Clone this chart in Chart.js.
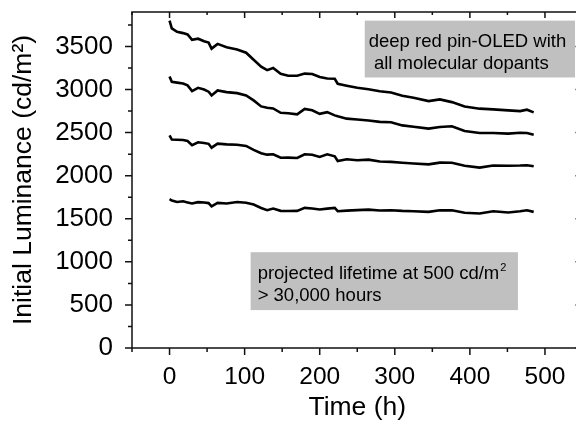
<!DOCTYPE html>
<html>
<head>
<meta charset="utf-8">
<script src="https://cdn.jsdelivr.net/npm/chart.js@4.4.1/dist/chart.umd.min.js"></script>
<style>
  html, body { margin: 0; padding: 0; background: #fff; overflow: hidden; }
  #wrap { width: 600px; height: 424px; }
</style>
</head>
<body>
<div id="wrap"><canvas id="lifetimeChart" width="600" height="424"></canvas></div>
<script>
// time axis shared by all four curves (h)
var hours = [0, 3, 10, 18, 24, 30, 38, 46, 52, 56, 64, 76, 90, 102, 112, 122, 130, 138, 148, 158,
  170, 180, 190, 200, 210, 220, 224, 236, 250, 265, 280, 295, 310, 325, 345, 360, 376, 393, 413,
  431, 451, 467, 476, 485];

var lum3800 = [3800, 3710, 3670, 3655, 3640, 3577, 3590, 3560, 3545, 3475, 3530, 3492, 3465, 3427,
  3345, 3265, 3225, 3250, 3183, 3160, 3160, 3185, 3180, 3145, 3128, 3125, 3067, 3045, 3020, 3003,
  2980, 2965, 2928, 2905, 2866, 2886, 2854, 2804, 2778, 2770, 2758, 2750, 2766, 2735];
var lum3150 = [3152, 3090, 3080, 3070, 3048, 2982, 3020, 3000, 2975, 2932, 2990, 2970, 2958, 2932,
  2874, 2804, 2788, 2780, 2730, 2725, 2712, 2775, 2760, 2718, 2738, 2700, 2689, 2662, 2652, 2640,
  2625, 2620, 2584, 2568, 2546, 2565, 2573, 2518, 2495, 2495, 2488, 2499, 2495, 2476];
var lum2470 = [2468, 2420, 2418, 2415, 2403, 2355, 2388, 2380, 2370, 2325, 2372, 2364, 2360, 2345,
  2300, 2260, 2244, 2248, 2208, 2210, 2205, 2248, 2244, 2217, 2248, 2225, 2171, 2190, 2179, 2186,
  2165, 2160, 2150, 2142, 2132, 2152, 2150, 2115, 2094, 2118, 2115, 2118, 2122, 2109];
var lum1730 = [1727, 1712, 1695, 1703, 1690, 1677, 1693, 1688, 1682, 1645, 1684, 1678, 1695, 1685,
  1665, 1625, 1600, 1619, 1592, 1591, 1592, 1626, 1619, 1607, 1618, 1626, 1588, 1595, 1600, 1606,
  1596, 1599, 1592, 1588, 1580, 1599, 1598, 1570, 1561, 1588, 1572, 1588, 1599, 1580];

var xTickValues = [0, 100, 200, 300, 400, 500];
var yTickValues = [0, 500, 1000, 1500, 2000, 2500, 3000, 3500];

var noteTop = ['deep red pin-OLED with', ' all molecular dopants'];
var noteBottom = ['projected lifetime at 500 cd/m', '> 30,000 hours'];

var fontFamily = "'Liberation Sans', Arial, sans-serif";

function toPoints(values) {
  return values.map(function (v, i) { return { x: hours[i], y: v }; });
}

function lineSet(values) {
  return {
    data: toPoints(values),
    showLine: true,
    borderColor: '#000',
    borderWidth: 2.6,
    pointRadius: 0,
    tension: 0,
    fill: false
  };
}

// frame, minor/major ticks and the two grey text boxes
var framePlugin = {
  id: 'framePlugin',
  beforeDatasetsDraw: function (chart) {
    var ctx = chart.ctx, xs = chart.scales.x, ys = chart.scales.y;
    ctx.save();
    ctx.fillStyle = '#c0c0c0';
    // upper box
    var l = xs.getPixelForValue(260), r = xs.getPixelForValue(540);
    var t = ys.getPixelForValue(3800), b = ys.getPixelForValue(3140);
    ctx.fillRect(l, t, r - l, b - t);
    ctx.fillStyle = '#000';
    ctx.font = '18.5px ' + fontFamily;
    ctx.textBaseline = 'alphabetic';
    ctx.fillText(noteTop[0], l + 4, t + 26);
    ctx.fillText(noteTop[1], l + 4, t + 48);
    // lower box
    ctx.fillStyle = '#c0c0c0';
    l = xs.getPixelForValue(108); r = xs.getPixelForValue(464);
    t = ys.getPixelForValue(1112); b = ys.getPixelForValue(440);
    ctx.fillRect(l, t, r - l, b - t);
    ctx.fillStyle = '#000';
    ctx.fillText(noteBottom[0], l + 7, t + 27);
    var w = ctx.measureText(noteBottom[0]).width;
    ctx.fillText(noteBottom[1], l + 7, t + 49);
    ctx.font = '11px ' + fontFamily;
    ctx.fillText('2', l + 7 + w + 1, t + 19);
    ctx.restore();
  },
  afterDraw: function (chart) {
    var ctx = chart.ctx, a = chart.chartArea, xs = chart.scales.x, ys = chart.scales.y;
    ctx.save();
    ctx.strokeStyle = '#111';
    ctx.lineWidth = 1.5;
    ctx.strokeRect(a.left, a.top, a.right - a.left, a.bottom - a.top);
    ctx.beginPath();
    var v, p, len;
    for (v = xs.min; v <= xs.max; v += 50) {
      p = xs.getPixelForValue(v);
      len = v % 100 === 0 ? 7 : 4;
      ctx.moveTo(p, a.bottom); ctx.lineTo(p, a.bottom + len);
      ctx.moveTo(p, a.top); ctx.lineTo(p, a.top + len - 1);
    }
    for (v = 0; v <= ys.max; v += 250) {
      p = ys.getPixelForValue(v);
      len = v % 500 === 0 ? 7 : 4;
      ctx.moveTo(a.left, p); ctx.lineTo(a.left - len, p);
      ctx.moveTo(a.right, p); ctx.lineTo(a.right - len, p);
    }
    ctx.stroke();
    ctx.restore();
  }
};

var ctx = document.getElementById('lifetimeChart').getContext('2d');

var lifetimeChart = new Chart(ctx, {
  type: 'scatter',
  data: {
    datasets: [lineSet(lum3800), lineSet(lum3150), lineSet(lum2470), lineSet(lum1730)]
  },
  options: {
    responsive: false,
    animation: false,
    devicePixelRatio: 1,
    layout: {
      padding: { top: 12, right: 17.5, left: 0, bottom: 0 }
    },
    plugins: {
      legend: { display: false },
      tooltip: { enabled: false }
    },
    scales: {
      x: {
        type: 'linear',
        min: -50,
        max: 550,
        grid: { display: false },
        border: { display: false },
        afterBuildTicks: function (scale) {
          scale.ticks = xTickValues.map(function (v) { return { value: v }; });
        },
        afterFit: function (scale) {
          scale.height = 76;
          scale.paddingLeft = 0;
          scale.paddingRight = 0;
        },
        ticks: {
          color: '#000',
          padding: 7,
          maxRotation: 0,
          font: { family: fontFamily, size: 24.5 },
          callback: function (v) { return String(v); }
        },
        title: {
          display: true,
          text: 'Time (h)',
          color: '#000',
          padding: { top: 0, bottom: 0 },
          font: { family: fontFamily, size: 26.5 }
        }
      },
      y: {
        type: 'linear',
        min: 0,
        max: 3900,
        grid: { display: false },
        border: { display: false },
        afterBuildTicks: function (scale) {
          scale.ticks = yTickValues.map(function (v) { return { value: v }; });
        },
        afterFit: function (scale) {
          scale.width = 132;
          scale.paddingTop = 0;
          scale.paddingBottom = 0;
        },
        ticks: {
          color: '#000',
          padding: 11,
          font: { family: fontFamily, size: 26 },
          callback: function (v) { return String(v); }
        },
        title: {
          display: true,
          text: 'Initial Luminance (cd/m²)',
          color: '#000',
          padding: { top: 8, bottom: 0 },
          font: { family: fontFamily, size: 26.5 }
        }
      }
    }
  },
  plugins: [framePlugin]
});
</script>
</body>
</html>
